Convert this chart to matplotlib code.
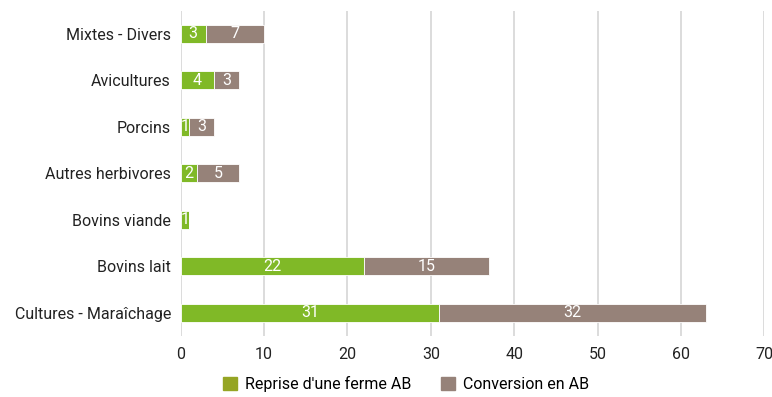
import matplotlib.pyplot as plt
import numpy as np

categories = ['Cultures - Maraîchage', 'Bovins lait', 'Bovins viande',
              'Autres herbivores', 'Porcins', 'Avicultures', 'Mixtes - Divers']
reprise = [31, 22, 1, 2, 1, 4, 3]
conversion = [32, 15, 0, 5, 3, 3, 7]
series_names = ["Reprise d'une ferme AB", 'Conversion en AB']

plt.rcParams['font.family'] = ['Roboto', 'DejaVu Sans']

green = '#80b927'
brown = '#968279'

fig = plt.figure(figsize=(7.72, 3.97), dpi=100)
ax = fig.add_axes([0.234, 0.154, 0.756, 0.819])

y = np.arange(len(categories))
h = 0.39
b1 = ax.barh(y, reprise, height=h, color=green, edgecolor='white', linewidth=0.6,
             label=series_names[0])
b2 = ax.barh(y, conversion, height=h, left=reprise, color=brown, edgecolor='white',
             linewidth=0.6, label=series_names[1])

# value labels inside the segments
for bars, vals in ((b1, reprise), (b2, conversion)):
    for rect, v in zip(bars, vals):
        if v == 0:
            continue
        ax.text(rect.get_x() + rect.get_width() / 2, rect.get_y() + rect.get_height() / 2,
                str(v), color='white', ha='center', va='center', fontsize=11.5)

ax.set_xlim(0, 70)
ax.set_ylim(-0.5, len(categories) - 0.5)
ax.set_xticks(range(0, 71, 10))
ax.set_yticks(y)
ax.set_yticklabels(categories)
ax.tick_params(axis='both', length=0, labelsize=11.5, colors='#222222')
ax.tick_params(axis='y', pad=7)
ax.tick_params(axis='x', pad=8)
ax.xaxis.grid(True, color='#d9d9d9', linewidth=1.3)
ax.set_axisbelow(True)
for s in ax.spines.values():
    s.set_visible(False)

handles = [plt.Rectangle((0, 0), 1, 1, color='#95a524'),
           plt.Rectangle((0, 0), 1, 1, color=brown)]
fig.legend(handles, series_names, loc='center', bbox_to_anchor=(0.526, 0.033),
           ncol=2, frameon=False, fontsize=11.5, handlelength=0.9, handleheight=0.9,
           columnspacing=1.8, handletextpad=0.5)

fig.savefig('out.png', dpi=100)
